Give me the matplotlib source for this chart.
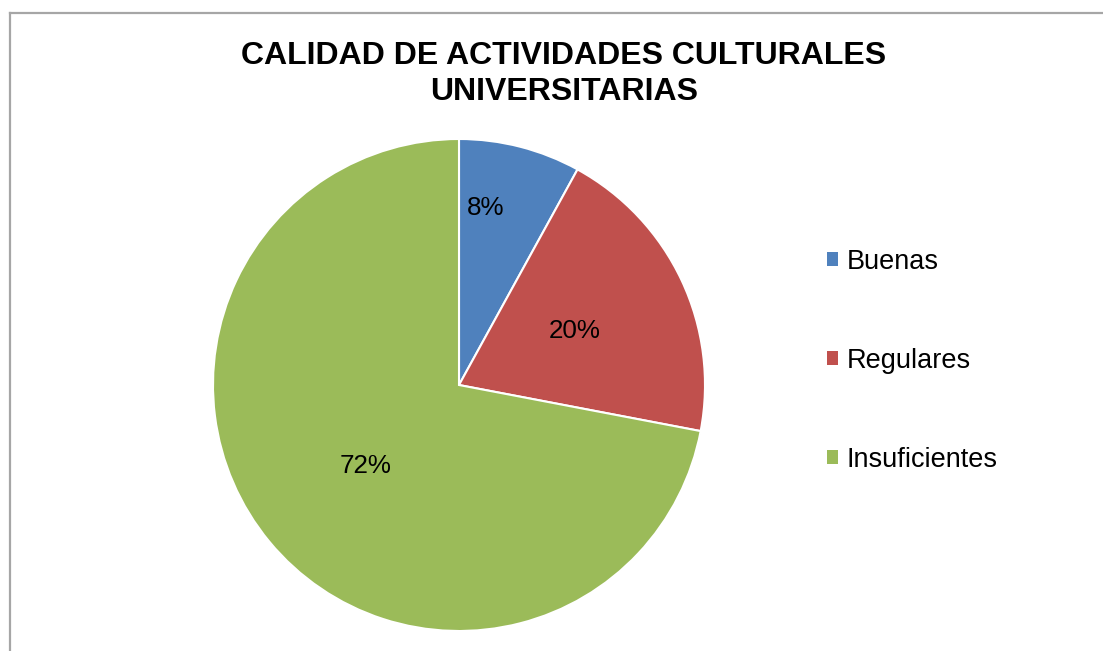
import matplotlib
matplotlib.use("Agg")
import matplotlib.pyplot as plt
from matplotlib.lines import Line2D

categories = ["Buenas", "Regulares", "Insuficientes"]
values = [8, 20, 72]
colors = ["#4F81BD", "#C0504D", "#9BBB59"]
title = "CALIDAD DE ACTIVIDADES CULTURALES\nUNIVERSITARIAS"

plt.rcParams['font.family'] = ['Liberation Sans', 'DejaVu Sans']

W, H = 1103, 651
fig = plt.figure(figsize=(W / 100, H / 100), dpi=100)

# Frame lines (top and left)
fig.add_artist(Line2D([10 / W, 1], [1 - 13 / H, 1 - 13 / H], color="#a6a6a6", lw=1.6, transform=fig.transFigure))
fig.add_artist(Line2D([10 / W, 10 / W], [0, 1 - 13 / H], color="#a6a6a6", lw=1.6, transform=fig.transFigure))

ax = fig.add_axes([213 / W, (H - 631) / H, 492 / W, 492 / H])
wedges, texts, autotexts = ax.pie(
    values, colors=colors, startangle=90, counterclock=False,
    autopct=lambda p: f"{p:.0f}%", pctdistance=0.52,
    wedgeprops=dict(edgecolor="white", linewidth=1.5),
    textprops=dict(fontsize=18.7, color="black"))
autotexts[0].set_position((0.11, 0.72))
autotexts[2].set_position((-0.38, -0.33))
ax.set_xlim(-1, 1)
ax.set_ylim(-1, 1)
ax.set_aspect("equal")

fig.text(564 / W, 1 - 74 / H, title, ha="center", va="center", fontsize=23,
         fontweight="bold", linespacing=1.3)

leg = fig.legend(wedges, categories, loc="center left",
                 bbox_to_anchor=(827 / W, 1 - 361 / H), frameon=False,
                 fontsize=19.5, labelspacing=2.7, handlelength=0.42,
                 handleheight=0.42, handletextpad=0.3, borderpad=0,
                 borderaxespad=0)
for h in leg.legend_handles:
    h.set_linewidth(0)

fig.savefig("out.png", dpi=100)
